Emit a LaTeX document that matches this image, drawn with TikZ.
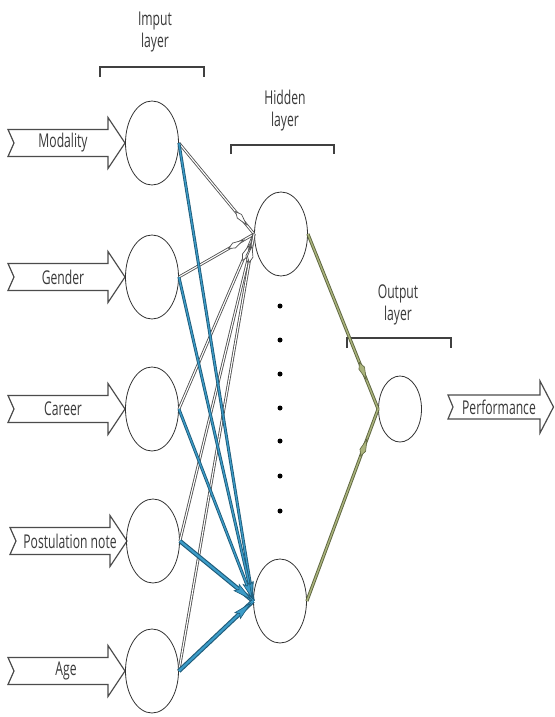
\documentclass[tikz,border=0pt]{standalone}
\usepackage{fontspec}
\setmainfont[FakeStretch=0.64]{Open Sans}
\usetikzlibrary{shapes.geometric,decorations.markings}
\definecolor{txt}{HTML}{3A3A3A}
\definecolor{lineGray}{HTML}{505050}
\definecolor{blueDark}{HTML}{1E5A78}
\definecolor{blueFill}{HTML}{3C9CC8}
\definecolor{greenDark}{HTML}{5E6640}
\definecolor{greenFill}{HTML}{AAB37C}
\tikzset{
  neuron/.style={draw=black!80, line width=0.8pt, ellipse, inner sep=0pt, minimum width=53pt, minimum height=84pt},
  outneuron/.style={draw=black!80, line width=0.8pt, ellipse, inner sep=0pt, minimum width=43pt, minimum height=66pt},
  lbl/.style={text=txt, font=\fontsize{19}{19}\selectfont, inner sep=0pt},
  head/.style={text=txt, font=\fontsize{19}{22}\selectfont, align=center, inner sep=0pt},
  bracket/.style={draw=black!75, line width=1.3pt},
  arrowline/.style={draw=black!70, line width=1.2pt, fill=white, line join=miter},
  dotnode/.style={circle, fill=black, inner sep=0pt, minimum size=5pt},
  gline/.style={line width=1.1pt, draw=white, preaction={draw=lineGray, line width=2.8pt},
    postaction={decorate, decoration={markings, mark=at position -12pt with {
      \draw[draw=lineGray, line width=0.7pt, fill=white] (-17pt,0) -- (-11pt,2.8pt) -- (0,0) -- (-11pt,-2.8pt) -- cycle;}}}},
  bline/.style={line width=1.3pt, draw=blueFill, preaction={draw=blueDark, line width=3pt},
    postaction={decorate, decoration={markings, mark=at position -3pt with {
      \draw[draw=blueDark, line width=0.6pt, fill=blueFill] (-16pt,-3.3pt) -- (0,0) -- (-16pt,3.3pt) -- (-13pt,0) -- cycle;}}}},
  bthick/.style={line width=2.2pt, draw=blueFill, preaction={draw=blueDark, line width=4.4pt},
    postaction={decorate, decoration={markings, mark=at position -3pt with {
      \draw[draw=blueDark, line width=0.6pt, fill=blueFill] (-18pt,-4pt) -- (0,0) -- (-18pt,4pt) -- (-15pt,0) -- cycle;}}}},
  grline/.style={line width=1.4pt, draw=greenFill, preaction={draw=greenDark, line width=3.2pt},
    postaction={decorate, decoration={markings, mark=at position -32pt with {
      \draw[draw=greenDark, line width=0.6pt, fill=greenFill] (-18pt,0) -- (-12pt,3pt) -- (0,0) -- (-12pt,-3pt) -- cycle;}}}},
  inarrow/.pic={\draw[arrowline] (8,-13.5) -- (14,0) -- (8,13.5) -- (108,13.5) -- (108,25.5) -- (125,0) -- (108,-25.5) -- (108,-13.5) -- cycle;},
  outarrow/.pic={\draw[arrowline] (448,-12) -- (453,0) -- (448,12) -- (540,12) -- (540,26) -- (553.5,0) -- (540,-26) -- (540,-12) -- cycle;}
}
\begin{document}
\begin{tikzpicture}[x=1pt,y=-1pt]
\useasboundingbox[fill=white] (0,0) rectangle (554,717);

% headers
\node[head] (hin) at (155,32) {Imput\\layer};
\draw[bracket] (100,77) -- (100,67) -- (204,67) -- (204,77);
\node[head] (hhid) at (285,111) {Hidden\\layer};
\draw[bracket] (231,154) -- (231,145) -- (334,145) -- (334,154);
\node[head] (hout) at (398,305) {Output\\layer};
\draw[bracket] (347,348) -- (347,338) -- (451,338) -- (451,348);

% input arrows
\pic at (0,143) {inarrow};
\pic at (0,277) {inarrow};
\pic at (0,409) {inarrow};
\pic at (2,541) {inarrow};
\pic at (0,671) {inarrow};
\node[lbl] (t1) at (63,143) {Modality};
\node[lbl] (t2) at (63,277) {Gender};
\node[lbl] (t3) at (63,409) {Career};
\node[lbl] (t4) at (70,541) {Postulation note};
\node[lbl] (t5) at (66,671) {Age};

% neurons
\node[neuron] (i1) at (152,143) {};
\node[neuron] (i2) at (152,277) {};
\node[neuron] (i3) at (152,409) {};
\node[neuron] (i4) at (153,541) {};
\node[neuron] (i5) at (152,671) {};
\node[neuron] (h1) at (281,234) {};
\node[neuron] (h2) at (280,601) {};
\node[outneuron] (o) at (400,409) {};

% dots
\foreach \k/\yy in {1/306,2/340,3/374,4/408,5/441,6/476,7/511}
  \node[dotnode] (d\k) at (280,\yy) {};

% output arrow
\pic at (0,407) {outarrow};
\node[lbl] (tp) at (499,407) {Performance};

% gray connectors to h1
\draw[gline] (i1.east) -- (h1.west);
\draw[gline] (i2.east) -- (h1.west);
\draw[gline] (i3.east) -- (h1.west);
\draw[gline] (i4.east) -- (h1.west);
\draw[gline] (i5.east) -- (h1.west);
% blue connectors to h2
\draw[bline] (i1.east) -- (h2.west);
\draw[bline] (i2.east) -- (h2.west);
\draw[bline] (i3.east) -- (h2.west);
\draw[bthick] (i4.east) -- (h2.west);
\draw[bthick] (i5.east) -- (h2.west);
% green connectors
\draw[grline] (h1.east) -- (o.west);
\draw[grline] (h2.east) -- (o.west);
\end{tikzpicture}
\end{document}
